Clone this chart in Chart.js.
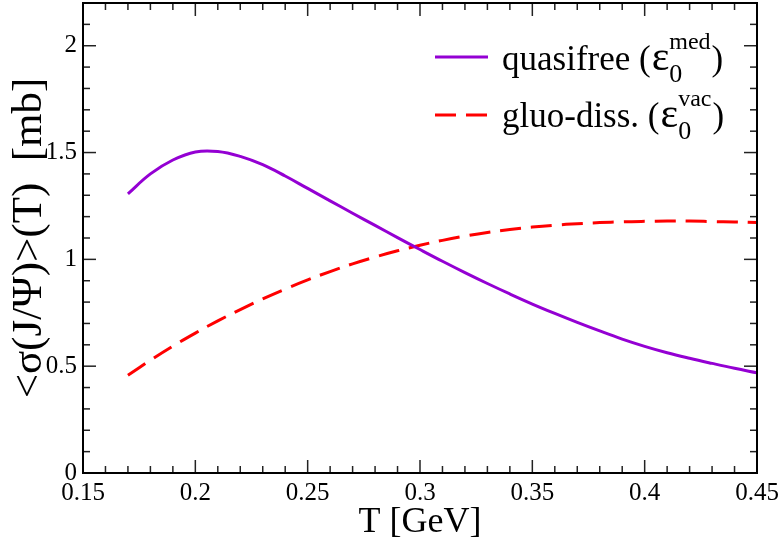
<!DOCTYPE html>
<html>
<head>
<meta charset="utf-8">
<script src="https://cdn.jsdelivr.net/npm/chart.js@4.4.0/dist/chart.umd.min.js"></script>
<style>
  html, body { margin: 0; padding: 0; background: #fff; }
  #wrap { width: 783px; height: 549px; }
</style>
</head>
<body>
<div id="wrap"><canvas id="chart" width="783" height="549"></canvas></div>
<script>
// === DATOS ===
const tValues = [0.17, 0.18, 0.19, 0.20, 0.21, 0.22, 0.23, 0.24, 0.25, 0.26,
                 0.27, 0.28, 0.29, 0.30, 0.31, 0.32, 0.33, 0.34, 0.35, 0.36,
                 0.37, 0.38, 0.39, 0.40, 0.41, 0.42, 0.43, 0.44, 0.45];
const quasifree = [1.307, 1.400, 1.465, 1.503, 1.505, 1.482, 1.443, 1.390, 1.332, 1.274,
                   1.216, 1.159, 1.102, 1.046, 0.991, 0.938, 0.887, 0.838, 0.791, 0.747,
                   0.705, 0.665, 0.627, 0.593, 0.563, 0.537, 0.513, 0.490, 0.469];
const gluoDiss = [0.458, 0.528, 0.594, 0.655, 0.712, 0.765, 0.815, 0.861, 0.904, 0.943,
                  0.979, 1.011, 1.040, 1.066, 1.089, 1.109, 1.126, 1.140, 1.151, 1.160,
                  1.167, 1.172, 1.176, 1.178, 1.179, 1.179, 1.177, 1.175, 1.172];

const xTickValues = [0.15, 0.2, 0.25, 0.3, 0.35, 0.4, 0.45];
const yTickValues = [0, 0.5, 1, 1.5, 2];

const legendMain = ['quasifree (', 'gluo-diss. ('];
const legendSup = ['med', 'vac'];

const SERIF = '"Liberation Serif", "Times New Roman", serif';

// === MARCO Y MARCAS HACIA DENTRO (4 lados) ===
const frameTicks = {
    id: 'frameTicks',
    afterDatasetsDraw(chart) {
        const { ctx, chartArea: a, scales: { x, y } } = chart;
        ctx.save();
        ctx.strokeStyle = '#222';
        ctx.lineWidth = 1.5;
        const seg = (x1, y1, x2, y2) => {
            ctx.beginPath(); ctx.moveTo(x1, y1); ctx.lineTo(x2, y2); ctx.stroke();
        };
        // eje x: menores cada 0.01, mayores cada 0.05
        for (let i = 0; i <= 30; i++) {
            const px = x.getPixelForValue(x.min + i * 0.01);
            const len = i % 5 === 0 ? 13 : 7;
            seg(px, a.bottom, px, a.bottom - len);
            seg(px, a.top, px, a.top + len);
        }
        // eje y: menores cada 0.1, mayores cada 0.5
        for (let i = 0; i <= 22; i++) {
            const py = y.getPixelForValue(i * 0.1);
            const len = i % 5 === 0 ? 13 : 7;
            seg(a.left, py, a.left + len, py);
            seg(a.right, py, a.right - len, py);
        }
        ctx.strokeStyle = '#000';
        ctx.lineWidth = 2;
        ctx.strokeRect(a.left, a.top, a.width, a.height);
        ctx.restore();
    }
};

// === LEYENDA con sub/superíndices ===
const texLegend = {
    id: 'texLegend',
    afterDraw(chart) {
        const ctx = chart.ctx;
        chart.data.datasets.forEach((d, i) => {
            const base = 70 + i * 57;
            const lineY = 57 + i * 58;
            ctx.save();
            ctx.strokeStyle = d.borderColor;
            ctx.lineWidth = d.borderWidth;
            ctx.setLineDash(d.borderDash || []);
            ctx.beginPath(); ctx.moveTo(435, lineY); ctx.lineTo(488, lineY); ctx.stroke();
            ctx.setLineDash([]);

            ctx.fillStyle = '#000';
            ctx.textBaseline = 'alphabetic';
            ctx.textAlign = 'left';
            let xx = 502;
            ctx.font = '35px ' + SERIF;
            ctx.fillText(legendMain[i], xx, base);
            xx += ctx.measureText(legendMain[i]).width + 1;
            ctx.font = '42px ' + SERIF;
            ctx.fillText('ε', xx, base);
            xx += ctx.measureText('ε').width;
            ctx.font = '26px ' + SERIF;
            ctx.fillText('0', xx, base + 12);
            const w0 = ctx.measureText('0').width;
            ctx.font = '24px ' + SERIF;
            ctx.fillText(legendSup[i], xx, base - 21);
            const ws = ctx.measureText(legendSup[i]).width;
            xx += Math.max(w0, ws) + 1;
            ctx.font = '35px ' + SERIF;
            ctx.fillText(')', xx, base);
            ctx.restore();
        });
    }
};

const ctx = document.getElementById('chart').getContext('2d');
new Chart(ctx, {
    type: 'line',
    data: {
        datasets: [{
            label: 'quasifree',
            data: tValues.map((t, i) => ({ x: t, y: quasifree[i] })),
            borderColor: '#9400d3',
            borderWidth: 3,
            pointRadius: 0,
            tension: 0.4,
            fill: false
        }, {
            label: 'gluo-diss.',
            data: tValues.map((t, i) => ({ x: t, y: gluoDiss[i] })),
            borderColor: '#ff0000',
            borderWidth: 3,
            borderDash: [21, 10],
            pointRadius: 0,
            tension: 0.4,
            fill: false
        }]
    },
    options: {
        responsive: false,
        animation: false,
        devicePixelRatio: 1,
        layout: { padding: { left: 0, top: 3, right: 26, bottom: 0 } },
        plugins: { legend: { display: false }, tooltip: { enabled: false } },
        scales: {
            x: {
                type: 'linear',
                min: 0.15,
                max: 0.45,
                grid: { display: false, drawTicks: false },
                border: { display: false },
                afterBuildTicks: s => { s.ticks = xTickValues.map(v => ({ value: v })); },
                afterFit: s => { s.height = 76; s.paddingLeft = 0; s.paddingRight = 0; },
                ticks: {
                    color: '#000',
                    padding: 5,
                    maxRotation: 0,
                    autoSkip: false,
                    font: { family: SERIF, size: 25 },
                    callback: v => String(Math.round(v * 100) / 100)
                },
                title: {
                    display: true,
                    text: 'T [GeV]',
                    color: '#000',
                    font: { family: SERIF, size: 36 },
                    padding: { top: 5, bottom: 5 }
                }
            },
            y: {
                min: 0,
                max: 2.2,
                grid: { display: false, drawTicks: false },
                border: { display: false },
                afterBuildTicks: s => { s.ticks = yTickValues.map(v => ({ value: v })); },
                afterFit: s => { s.width = 83; s.paddingTop = 0; s.paddingBottom = 0; },
                ticks: {
                    color: '#000',
                    padding: 6,
                    autoSkip: false,
                    font: { family: SERIF, size: 25 },
                    callback: v => String(Math.round(v * 10) / 10)
                },
                title: {
                    display: true,
                    text: '<σ(J/Ψ)>(T)  [mb]',
                    color: '#000',
                    font: { family: SERIF, size: 43 },
                    padding: { top: 4, bottom: 4 }
                }
            }
        }
    },
    plugins: [frameTicks, texLegend]
});
</script>
</body>
</html>
